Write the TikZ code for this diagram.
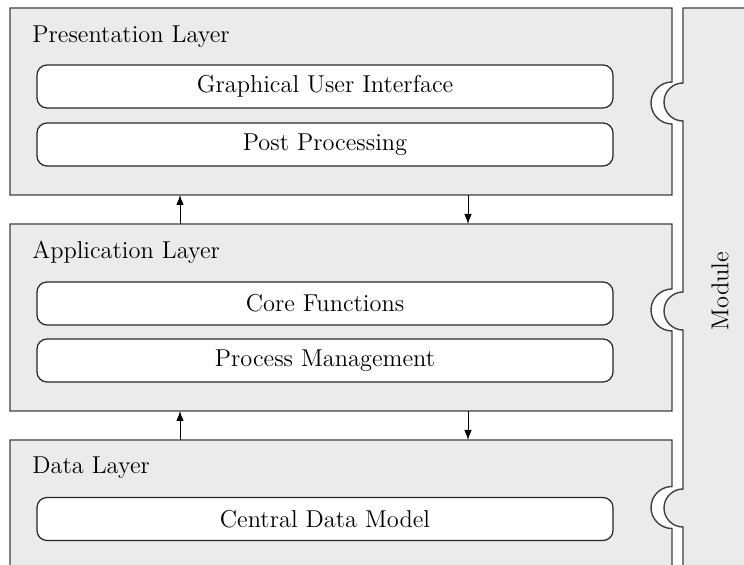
\documentclass[tikz,border=0pt]{standalone}
\usetikzlibrary{arrows.meta}
\definecolor{layerfill}{HTML}{EBEBEB}
\definecolor{edge}{HTML}{404040}
\tikzset{
  layer/.style={fill=layerfill, draw=edge, line width=0.7pt},
  ibox/.style={draw=black!85, fill=white, rounded corners=5pt, line width=0.6pt,
    minimum width=288pt, minimum height=21.5pt, inner sep=0pt, font=\fontsize{12.2}{14}\selectfont},
  ltitle/.style={anchor=base west, inner sep=0pt, font=\fontsize{12.2}{14}\selectfont},
  ghost/.style={inner sep=0pt, outer sep=0pt},
  arr/.style={-{Latex[length=5pt,width=3.8pt]}, line width=0.5pt, black}
}
% concave socket in a layer's right edge (downward), centre y = #1
\newcommand\socket[1]{-- (672,#1-21) .. controls (660.4,#1-21) and (651,#1-11.6) .. (651,#1)
  .. controls (651,#1+11.6) and (660.4,#1+21) .. (672,#1+21)}
% convex tab on the module's left edge (upward), centre y = #1
\newcommand\modtab[1]{-- (683,#1+19) .. controls (672.5,#1+19) and (664,#1+10.5) .. (664,#1)
  .. controls (664,#1-10.5) and (672.5,#1-19) .. (683,#1-19)}
\begin{document}
\begin{tikzpicture}[x=0.5pt,y=-0.5pt]
\useasboundingbox (0,0) rectangle (744,565);
% Presentation layer
\path[layer] (10,8) -- (672,8) \socket{103} -- (672,195) -- (10,195) -- cycle;
% Application layer
\path[layer] (10,224) -- (672,224) \socket{310} -- (672,411) -- (10,411) -- cycle;
% Data layer
\path[fill=layerfill] (10,440) -- (672,440) \socket{507.5} -- (672,580) -- (10,580) -- cycle;
\draw[edge, line width=0.7pt] (10,580) -- (10,440) -- (672,440) \socket{507.5} -- (672,580);
% Module
\path[layer] (683,8) -- (770,8) -- (770,580) -- (683,580)
  \modtab{508} \modtab{311} \modtab{102} -- cycle;
\node[rotate=90, font=\fontsize{12.2}{14}\selectfont, inner sep=0pt] (module) at (720,291) {Module};
% invisible layer frames for connectors
\node[ghost, minimum width=331pt, minimum height=93.5pt] (pres) at (341,101.5) {};
\node[ghost, minimum width=331pt, minimum height=93.5pt] (app) at (341,317.5) {};
\node[ghost, minimum width=331pt, minimum height=62.5pt] (data) at (341,502.5) {};
% titles
\node[ltitle] (tpres) at (32,43) {Presentation Layer};
\node[ltitle] (tapp) at (32,259) {Application Layer};
\node[ltitle] (tdata) at (32,474) {Data Layer};
% inner boxes
\node[ibox] (gui) at (325,86.5) {Graphical User Interface};
\node[ibox] (post) at (325,144.5) {Post Processing};
\node[ibox] (core) at (325,303.5) {Core Functions};
\node[ibox] (proc) at (325,360.5) {Process Management};
\node[ibox] (cdm) at (325,519) {Central Data Model};
% arrows
\coordinate (ux) at (180,0);
\coordinate (dx) at (468,0);
\draw[arr] (app.north -| ux) -- (pres.south -| ux);
\draw[arr] (pres.south -| dx) -- (app.north -| dx);
\draw[arr] (data.north -| ux) -- (app.south -| ux);
\draw[arr] (app.south -| dx) -- (data.north -| dx);
\end{tikzpicture}
\end{document}
